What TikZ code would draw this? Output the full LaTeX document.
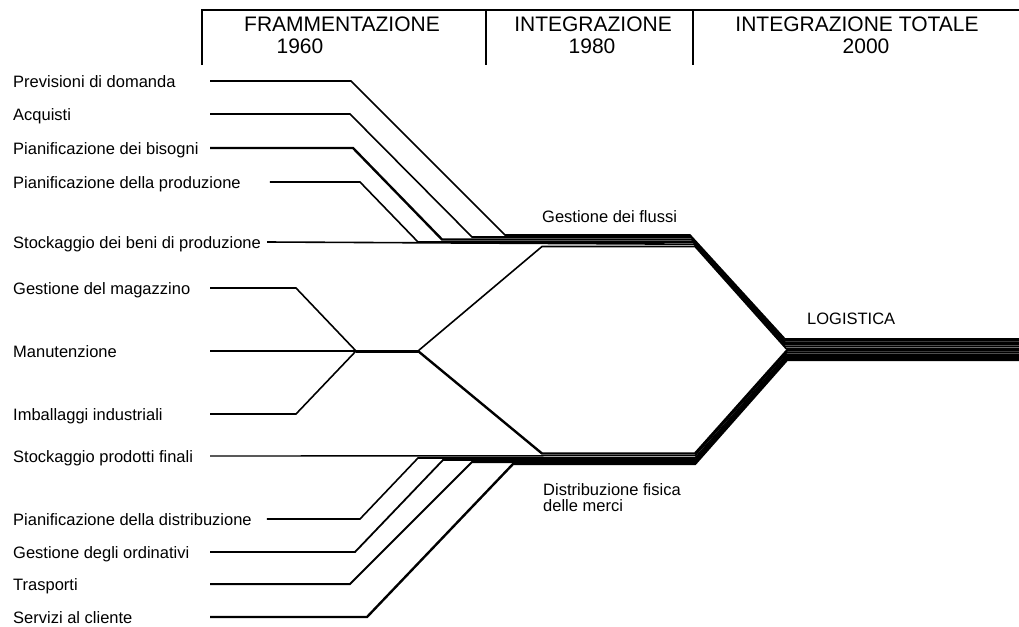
\documentclass[tikz,border=0pt]{standalone}
\usepackage{fontspec}
\setmainfont{Liberation Sans}
\usetikzlibrary{positioning}
\tikzstyle{item}=[anchor=base west, inner sep=0pt, text height=12pt, text depth=0pt, font=\fontsize{16.5}{16.5}\selectfont]
\tikzstyle{head}=[inner sep=0pt, font=\fontsize{21}{25}\selectfont]
\tikzstyle{rule}=[line width=1.7pt]
\tikzstyle{flow}=[line width=1.6pt]
\tikzstyle{flowb}=[line width=2.4pt]

\begin{document}
\begin{tikzpicture}[x=1pt, y=-1pt]
  \useasboundingbox (0,0) rectangle (1019,626);

  % header
  \draw [rule] (202,65) -- (202,10) -- (1019,10);
  \draw [rule] (486,10) -- (486,65);
  \draw [rule] (693,10) -- (693,65);
  \node [head] (fram) at (342,24.5) {FRAMMENTAZIONE};
  \node [head] (y60) at (300,46.5) {1960};
  \node [head] (integ) at (593,24.5) {INTEGRAZIONE};
  \node [head] (y80) at (592,46.5) {1980};
  \node [head] (tot) at (857,24.5) {INTEGRAZIONE TOTALE};
  \node [head] (y00) at (866,46.5) {2000};

  % activities
  \node [item] (prev) at (13,87) {Previsioni di domanda};
  \node [item] (acq) at (13,120) {Acquisti};
  \node [item] (bis) at (13,154) {Pianificazione dei bisogni};
  \node [item] (prod) at (13,188) {Pianificazione della produzione};
  \node [item] (stbp) at (13,248) {Stockaggio dei beni di produzione};
  \node [item] (mag) at (13,294) {Gestione del magazzino};
  \node [item] (man) at (13,357) {Manutenzione};
  \node [item] (imb) at (13,420) {Imballaggi industriali};
  \node [item] (stpf) at (13,462) {Stockaggio prodotti finali};
  \node [item] (dis) at (13,525) {Pianificazione della distribuzione};
  \node [item] (ord) at (13,558) {Gestione degli ordinativi};
  \node [item] (tra) at (13,590) {Trasporti};
  \node [item] (ser) at (13,623) {Servizi al cliente};

  \node [item] (flussi) at (542,222) {Gestione dei flussi};
  \node [item] (logi) at (807,324) {LOGISTICA};
  \node [item] (dist) at (543,495) {Distribuzione fisica};
  \node [item] (merci) at ([yshift=-16pt]dist.base west) {delle merci};

  \coordinate (col) at (210,0);
  \coordinate (hub) at (356,351);
  \coordinate (split) at (418,351);

  % gestione dei flussi
  \draw [flow] (prev.east -| col) -- (351,81) -- (505,235) -- (690,235) -- (785,339) -- (1019,339);
  \draw [flow] (acq.east -| col) -- (350,114) -- (472,237) -- (691,237) -- (785,340.9) -- (1019,340.9);
  \draw [flowb] (bis.east -| col) -- (353,148) -- (442,239.5) -- (692,239.5) -- (785,342.8) -- (1019,342.8);
  \draw [flow] ([xshift=29pt]prod.east) -- (360,182) -- (418,242) -- (693,242) -- (785,344.7) -- (1019,344.7);
  \draw [flow] ([xshift=6pt]stbp.east) -- (694,244.2) -- (785,346.6) -- (1019,346.6);

  % magazzino
  \draw [flow] (mag.east -| col) -- (296,288) -- (hub);
  \draw [flow, line width=1.4pt] (man.east -| col) -- (hub);
  \draw [flow] (imb.east -| col) -- (296,414) -- (hub);
  \draw [line width=3pt] (hub) -- (split);
  \draw [flow] (split) -- (542,246.5) -- (695,246.5) -- (786,348.5) -- (1019,348.5);
  \draw [flowb] (split) -- (542,453.5) -- (695,453.5) -- (787,350.4) -- (1019,350.4);

  % distribuzione fisica
  \draw [flow, line width=1.4pt] (stpf.east -| col) -- (695,455.7) -- (787,352.3) -- (1019,352.3);
  \draw [flow] ([xshift=15pt]dis.east) -- (360,519) -- (418,458) -- (695,458) -- (787,354.2) -- (1019,354.2);
  \draw [flow, line width=1.8pt] (ord.east -| col) -- (355,552) -- (443,460) -- (695,460) -- (787,356.1) -- (1019,356.1);
  \draw [flow, line width=2pt] (tra.east -| col) -- (350,584) -- (472,462) -- (695,462) -- (787,358) -- (1019,358);
  \draw [flowb] (ser.east -| col) -- (367,617) -- (513,464) -- (695,464) -- (787,359.9) -- (1019,359.9);
\end{tikzpicture}
\end{document}
